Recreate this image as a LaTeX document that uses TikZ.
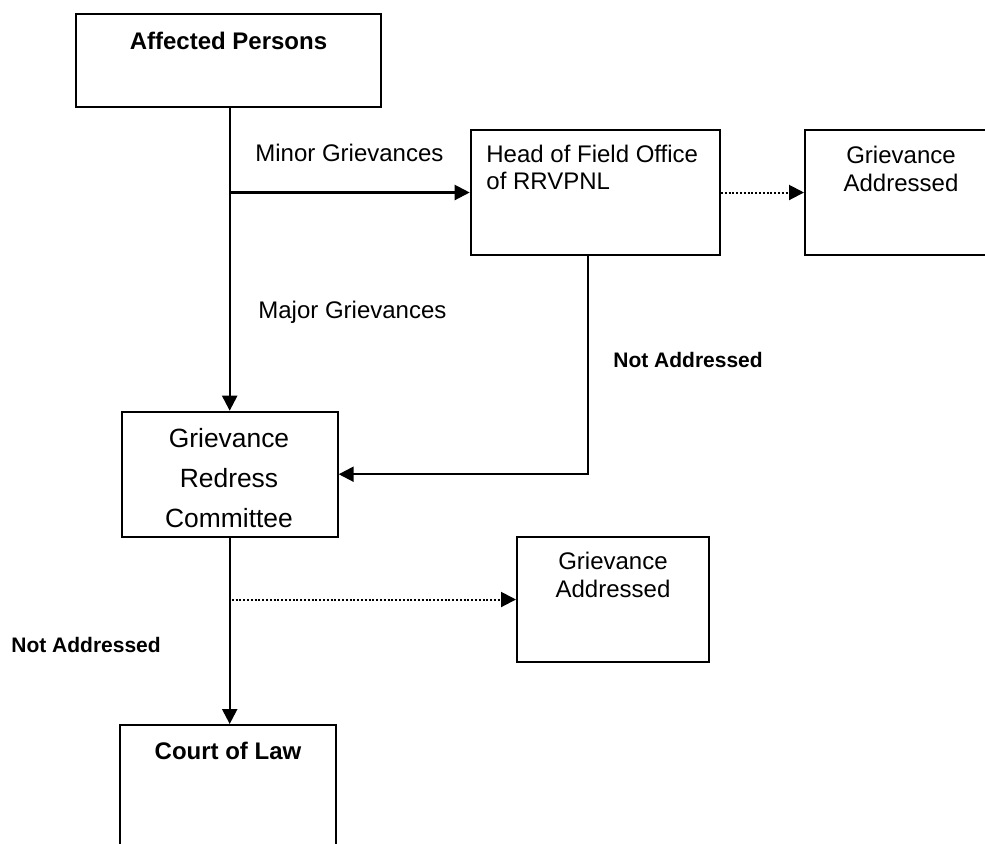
\documentclass[tikz,border=0pt]{standalone}
\usepackage{fontspec}
\setmainfont{Liberation Sans}
\usetikzlibrary{arrows.meta}
\begin{document}
\begin{tikzpicture}[x=0.5pt,y=-0.5pt,
  box/.style={draw, line width=1pt, rectangle, inner sep=0pt},
  txt/.style={inner sep=0pt, anchor=base, font=\fontsize{12}{14}\selectfont},
  txtb/.style={txt, font=\fontsize{12}{14}\selectfont\bfseries},
  lbl/.style={inner sep=0pt, anchor=base west, font=\fontsize{12}{14}\selectfont},
  lblb/.style={inner sep=0pt, anchor=base west, font=\fontsize{10.5}{12}\selectfont\bfseries},
  big/.style={inner sep=0pt, anchor=base, font=\fontsize{13.2}{15}\selectfont},
  conn/.style={line width=1.1pt, -{Triangle[length=7.5pt,width=7.5pt]}},
  dots/.style={line width=1pt, dash pattern=on 1pt off 0.9pt, -{Triangle[length=7.5pt,width=7.5pt]}}
]
\useasboundingbox (0,0) rectangle (985,843);
\clip (0,0) rectangle (985,843);
\fill[white] (0,0) rectangle (985,843);

% boxes
\node[box, minimum width=152.5pt, minimum height=46.5pt] (AP)  at (228.5,60.5) {};
\node[box, minimum width=124.6pt, minimum height=62.5pt] (HFO) at (595.3,192.5) {};
\node[box, minimum width=97.5pt,  minimum height=62.5pt] (GA1) at (902.5,192.5) {};
\node[box, minimum width=108pt,   minimum height=62.5pt] (GRC) at (229.7,474.2) {};
\node[box, minimum width=96pt,    minimum height=62.5pt] (GA2) at (613,599.5) {};
\node[box, minimum width=108pt,   minimum height=72.5pt] (COL) at (228,797.5) {};

% box texts
\node[txtb] (APt) at (228.5,49) {Affected Persons};
\node[txt, anchor=base west] (HFOt1) at (486,162) {Head of Field Office};
\node[txt, anchor=base west] (HFOt2) at (486,189) {of RRVPNL};
\node[txt] (GA1t1) at (901,163) {Grievance};
\node[txt] (GA1t2) at (901,191) {Addressed};
\node[big] (GRCt1) at (229,447) {Grievance};
\node[big] (GRCt2) at (229,487) {Redress};
\node[big] (GRCt3) at (229,527) {Committee};
\node[txt] (GA2t1) at (613,569) {Grievance};
\node[txt] (GA2t2) at (613,597) {Addressed};
\node[txtb] (COLt) at (228,759) {Court of Law};

% labels
\node[lbl] (minor) at (255,161) {Minor Grievances};
\node[lbl] (major) at (258,318) {Major Grievances};
\node[lblb] (na1) at (613,367) {Not Addressed};
\node[lblb] (na2) at (11,652) {Not Addressed};

% connectors
\draw[conn] (AP.south -| GRC.north) -- (GRC.north);
\draw[conn] (HFO.west -| GRC.north) -- (HFO.west);
\draw[dots] (HFO.east) -- (GA1.west);
\draw[conn] ([xshift=-3.5pt]HFO.south) |- (GRC.east);
\draw[conn] (GRC.south) -- (GRC.south |- COL.north);
\draw[dots] ([xshift=1pt]GA2.west -| GRC.south) -- (GA2.west);
\end{tikzpicture}
\end{document}
